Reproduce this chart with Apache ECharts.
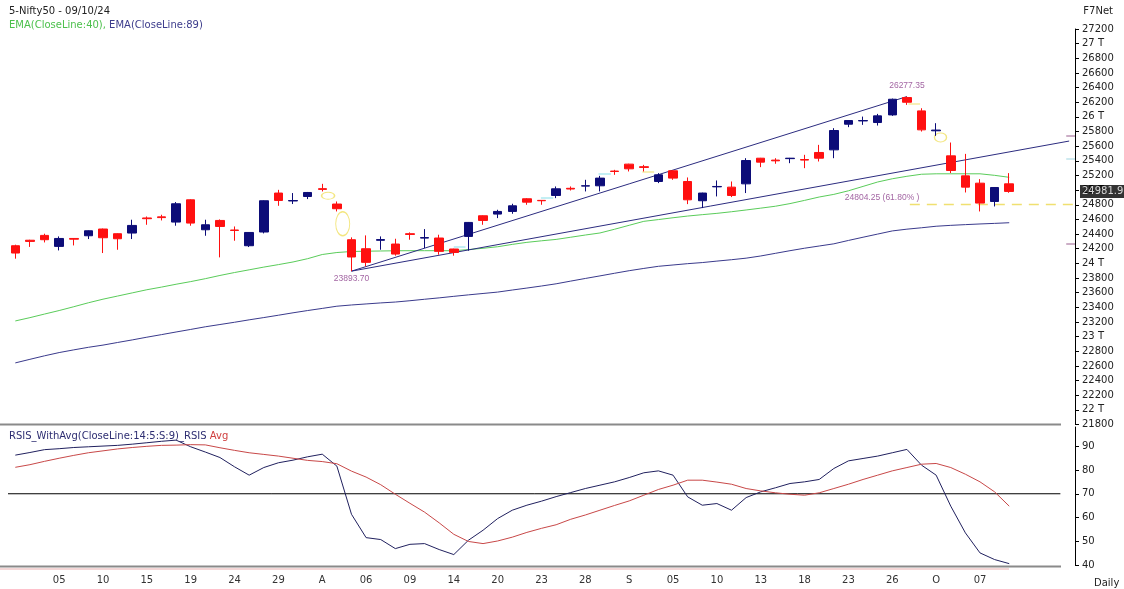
<!DOCTYPE html>
<html><head><meta charset="utf-8">
<script src="https://cdn.jsdelivr.net/npm/echarts@6/dist/echarts.min.js"></script>
<style>html,body{margin:0;padding:0;background:#fff}#c{width:1124px;height:589px}</style>
</head><body><div id="c"></div>
<script>
const dates = ['07-02','07-03','07-04','07-05','07-08','07-09','07-10','07-11','07-12','07-15','07-16','07-18','07-19','07-22','07-23','07-24','07-25','07-26','07-29','07-30','07-31',
'08-01','08-02','08-05','08-06','08-07','08-08','08-09','08-12','08-13','08-14','08-16','08-19','08-20','08-21','08-22','08-23','08-26','08-27','08-28','08-29','08-30',
'09-02','09-03','09-04','09-05','09-06','09-09','09-10','09-11','09-12','09-13','09-16','09-17','09-18','09-19','09-20','09-23','09-24','09-25','09-26','09-27','09-30',
'10-01','10-03','10-04','10-07','10-08','10-09'];
const tickLabels = ['','','','05','','','10','','','15','','','19','','','24','','','29','','',
'A','','','06','','','09','','','14','','','20','','','23','','','28','','',
'S','','','05','','','10','','','13','','','18','','','23','','','26','','',
'O','','','07','',''];
const opens  = [24241,24316,24382,24232,24340,24377,24469,24405,24414,24620,24635,24564,24868,24459,24586,24455,24241,24428,24960,24852,24913,
25020,24810,24323,24200,24315,24264,24405,24345,24346,24196,24368,24650,24673,24709,24882,24860,24927,25025,25055,25059,25260,
25355,25320,25118,25264,25118,24855,25045,25041,25086,25436,25410,25430,25418,25514,25550,25900,25945,25923,26027,26264,26082,
25810,25468,25195,25095,24845,25086];
const closes = [24141,24300,24323,24340,24330,24445,24350,24336,24518,24610,24625,24814,24550,24527,24504,24450,24422,24855,24859,24858,24968,
25010,24746,24087,24014,24325,24127,24395,24352,24164,24150,24559,24586,24709,24786,24836,24855,25018,25015,25060,25164,25255,
25291,25310,25209,25164,24868,24960,25050,24927,25404,25382,25400,25436,25410,25436,25814,25950,25950,26014,26241,26200,25823,
25820,25268,25041,24823,25036,24981.95];
const lows   = [24064,24225,24286,24177,24245,24332,24141,24186,24332,24527,24586,24514,24514,24377,24082,24309,24223,24409,24786,24810,24878,
24982,24709,23893.7,23959,24186,24105,24323,24209,24118,24105,24173,24527,24618,24677,24800,24800,24891,24995,24982,24982,25209,
25255,25255,25096,25141,24809,24755,24914,24905,24960,25314,25360,25368,25300,25391,25436,25860,25891,25882,26014,26164,25800,
25741,25232,24968,24709,24777,24964];
const highs  = [24255,24322,24405,24368,24345,24450,24475,24410,24596,24640,24664,24837,24875,24596,24600,24504,24425,24860,25004,24960,24975,
25086,24845,24355,24382,24368,24336,24423,24468,24391,24200,24565,24655,24732,24814,24890,24864,25050,25050,25141,25195,25277,
25360,25345,25232,25270,25173,24965,25132,25118,25436,25440,25436,25440,25482,25618,25846,25955,26004,26041,26250,26277.35,26118,
25914,25650,25495,25150,25040,25232];
const ema40 = [23214,23259,23308,23356,23408,23462,23511,23554,23597,23640,23676,23715,23751,23791,23835,23875,23912,23949,23983,24019,24064,
24121,24148,24162,24166,24169,24172,24173,24173,24173,24173,24188,24206,24227,24259,24287,24308,24327,24357,24387,24415,24466,
24520,24574,24598,24623,24646,24665,24683,24705,24729,24754,24780,24816,24860,24906,24942,24991,25051,25111,25155,25189,25217,
25223,25223,25223,25223,25202,25175];
const ema89 = [22641,22690,22738,22782,22819,22854,22884,22920,22955,22992,23027,23063,23098,23134,23165,23196,23229,23260,23292,23325,23356,
23385,23415,23432,23446,23460,23472,23490,23510,23529,23550,23570,23589,23608,23636,23663,23691,23721,23758,23794,23829,23865,
23900,23931,23960,23978,23996,24011,24031,24050,24071,24101,24137,24173,24207,24237,24267,24313,24357,24400,24443,24467,24486,
24507,24519,24529,24538,24546,24555];
const rsi = [86.2,87.3,88.5,88.9,89.4,89.7,90.0,90.3,90.8,91.4,92.0,92.5,89.7,87.5,85.2,81.3,77.8,81.0,83.0,84.1,85.5,
86.6,81.6,61.4,51.6,50.8,47.0,48.8,49.1,46.6,44.5,50.5,54.7,59.6,63.1,65.2,66.9,68.8,70.5,72.2,73.6,75.0,
76.8,78.8,79.6,77.8,68.7,65.2,65.9,63.1,68.4,70.8,72.5,74.3,75.0,76.0,80.6,83.8,84.8,85.8,87.2,88.6,82.0,
77.8,64.8,53.6,45.2,42.4,40.7];
const rsiAvg = [81.1,82.2,83.6,84.9,86.1,87.2,88.0,88.8,89.4,89.9,90.3,90.4,90.6,90.5,89.3,88.2,87.2,86.5,85.8,84.9,84.0,
83.5,82.6,79.5,77.0,73.8,69.8,66.0,62.3,57.8,53.0,50.0,49.1,50.2,51.8,53.8,55.5,57.0,59.3,61.1,63.1,65.1,
67.0,69.4,71.8,73.6,75.7,75.7,74.9,74.0,72.2,71.2,70.4,69.8,69.4,70.4,72.2,74.0,76.0,77.8,79.6,81.0,82.4,
82.7,81.0,78.2,75.0,70.8,64.8];
const priceTicks = {min: 21800, max: 27200, step: 200};
const rsiTicks = [40, 50, 60, 70, 80, 90];
const swingLow = {idx: 23, value: 23893.70, text: '23893.70'};
const swingHigh = {idx: 61, value: 26277.35, text: '26277.35'};
const fibLevel = {value: 24804.25, text: '24804.25 (61.80% )'};
const lastClose = '24981.9';

const padCount = 4;
const cats = dates.concat(Array.from({length: padCount}, (_, i) => 'pad' + i));
const N = cats.length;
const candle = dates.map((d, i) => [opens[i], closes[i], lows[i], highs[i]]);

const FONT = 'DejaVu Sans';
const chart = echarts.init(document.getElementById('c'));
const ellipse = (x, y, w, h) => ({value: [x, y], symbolSize: [w, h]});
const seg = (x1, x2, y, color, width) => ({coords: [[x1, y], [x2, y]], lineStyle: {color, width}});

const option = {
  animation: false,
  backgroundColor: '#ffffff',
  textStyle: {fontFamily: FONT},
  title: [
    {text: '5-Nifty50 - 09/10/24', left: 4, top: 1, textStyle: {fontSize: 10, fontWeight: 'normal', color: '#222', fontFamily: FONT}},
    {text: '{g|EMA(CloseLine:40),} {b|EMA(CloseLine:89)}', left: 4, top: 15,
     textStyle: {fontSize: 10, fontWeight: 'normal', fontFamily: FONT, rich: {g: {color: '#4cc04c', fontSize: 10, fontFamily: FONT}, b: {color: '#3c3c8c', fontSize: 10, fontFamily: FONT}}}},
    {text: 'F7Net', right: 6, top: 1, textStyle: {fontSize: 10, fontWeight: 'normal', color: '#222', fontFamily: FONT}},
    {text: '{n|RSIS_WithAvg(CloseLine:14:5:S:9)_RSIS} {r|Avg}', left: 4, top: 426,
     textStyle: {fontSize: 10, fontWeight: 'normal', fontFamily: FONT, rich: {n: {color: '#2e2e72', fontSize: 10, fontFamily: FONT}, r: {color: '#d04040', fontSize: 10, fontFamily: FONT}}}},
    {text: 'Daily', left: 1089, top: 573, textStyle: {fontSize: 10, fontWeight: 'normal', color: '#222', fontFamily: FONT}}
  ],
  grid: [
    {left: 8, right: 49, top: 29, height: 395.5},
    {left: 8, right: 49, top: 427, height: 138.3}
  ],
  xAxis: [
    {type: 'category', gridIndex: 0, data: cats, boundaryGap: true, axisLine: {show: false}, axisTick: {show: false}, axisLabel: {show: false}, splitLine: {show: false}},
    {type: 'category', gridIndex: 1, data: cats, boundaryGap: true, axisLine: {show: false}, axisTick: {show: false}, splitLine: {show: false},
     axisLabel: {interval: (i) => !!tickLabels[i], formatter: (v, i) => tickLabels[i] || '', color: '#333', fontSize: 10, fontFamily: FONT, margin: 10}},
    {type: 'value', gridIndex: 0, min: -0.5, max: N - 0.5, show: false},
    {type: 'value', gridIndex: 1, min: -0.5, max: N - 0.5, show: false}
  ],
  yAxis: [
    {type: 'value', gridIndex: 0, position: 'right', min: priceTicks.min, max: priceTicks.max, interval: priceTicks.step,
     axisLine: {show: true, onZero: false, lineStyle: {color: '#000', width: 1}}, axisTick: {show: true, length: 4, lineStyle: {color: '#000'}},
     splitLine: {show: false},
     axisLabel: {margin: 7, fontSize: 10, fontFamily: FONT, color: '#222', formatter: v => (v % 1000 === 0 ? (v / 1000) + ' T' : String(v))}},
    {type: 'value', gridIndex: 1, position: 'right', min: 40, max: 98, interval: 10,
     axisLine: {show: true, onZero: false, lineStyle: {color: '#000', width: 1}}, axisTick: {show: true, length: 4, customValues: rsiTicks, lineStyle: {color: '#000'}},
     splitLine: {show: false},
     axisLabel: {margin: 7, fontSize: 10, fontFamily: FONT, color: '#222', customValues: rsiTicks}}
  ],
  series: [
    {type: 'line', name: 'EMA89', xAxisIndex: 0, yAxisIndex: 0, data: ema89, symbol: 'none', lineStyle: {color: '#3a3a8c', width: 1}, z: 2},
    {type: 'line', name: 'EMA40', xAxisIndex: 0, yAxisIndex: 0, data: ema40, symbol: 'none', lineStyle: {color: '#5acc5a', width: 1}, z: 2},
    {type: 'line', name: 'trendA', xAxisIndex: 2, yAxisIndex: 0, data: [[swingLow.idx, swingLow.value], [swingHigh.idx, swingHigh.value]], symbol: 'none', lineStyle: {color: '#2c2c80', width: 1}, z: 3},
    {type: 'line', name: 'trendB', xAxisIndex: 2, yAxisIndex: 0, data: [[swingLow.idx, swingLow.value], [72.1, 25670]], symbol: 'none', lineStyle: {color: '#2c2c80', width: 1}, z: 3},
    {type: 'line', name: 'fib', xAxisIndex: 2, yAxisIndex: 0, data: [[61.2, fibLevel.value], [72.4, fibLevel.value]], symbol: 'none', lineStyle: {color: '#f0e070', width: 1.5, type: [10, 7]}, z: 3},
    {type: 'lines', coordinateSystem: 'cartesian2d', xAxisIndex: 2, yAxisIndex: 0, z: 4,
     data: [
       seg(30, 30.8, 24227, '#88e0ea', 2), seg(35.96, 36.8, 24891, '#88e0ea', 2), seg(39.9, 40.75, 25219, '#88e0ea', 2),
       seg(42.9, 43.7, 25250, '#f0e070', 2), seg(61.1, 61.9, 26177, '#f0e070', 2),
       seg(71.9, 72.5, 25745, '#7a2a6a', 1.5), seg(71.9, 72.5, 25427, '#80c8d8', 1.5), seg(71.9, 72.5, 24268, '#7a2a6a', 1.5)
     ]},
    {type: 'scatter', name: 'ellipses', xAxisIndex: 2, yAxisIndex: 0, symbol: 'circle', z: 4,
     itemStyle: {color: 'rgba(0,0,0,0)', borderColor: '#f0e060', borderWidth: 1.2},
     data: [ellipse(21.4, 24923, 13, 7), ellipse(22.4, 24541, 14, 24), ellipse(63.3, 25720, 12, 9)]},
    {type: 'candlestick', name: 'Nifty', xAxisIndex: 0, yAxisIndex: 0, data: candle, barWidth: 9, z: 5,
     itemStyle: {color: '#0c0c78', color0: '#ff1010', borderColor: '#0c0c78', borderColor0: '#ff1010', borderWidth: 1}},
    {type: 'scatter', name: 'labels', xAxisIndex: 2, yAxisIndex: 0, symbolSize: 0, z: 6, clip: false,
     label: {show: true, fontFamily: 'Liberation Sans', fontSize: 8.5, color: '#8b3d8b'},
     data: [
       {value: [swingLow.idx, swingLow.value], label: {position: 'bottom', distance: 3, formatter: swingLow.text}},
       {value: [swingHigh.idx, swingHigh.value], label: {position: 'top', distance: 6, formatter: swingHigh.text}},
       {value: [59.3, fibLevel.value], label: {position: 'top', distance: 2, formatter: fibLevel.text}}
     ]},
    {type: 'scatter', name: 'lastbox', xAxisIndex: 2, yAxisIndex: 0, symbolSize: 0, z: 10, clip: false,
     data: [{value: [N - 0.5, closes[closes.length - 1]]}],
     label: {show: true, position: 'right', distance: 5, formatter: lastClose, color: '#fff', backgroundColor: '#000', padding: [2, 2, 1, 2], fontSize: 10, fontFamily: FONT}},
    {type: 'line', name: 'RSIS', xAxisIndex: 1, yAxisIndex: 1, data: rsi, symbol: 'none', lineStyle: {color: '#20205e', width: 1}, z: 3},
    {type: 'line', name: 'Avg', xAxisIndex: 1, yAxisIndex: 1, data: rsiAvg, symbol: 'none', lineStyle: {color: '#c84848', width: 1}, z: 3},
    {type: 'line', name: 'lvl70', xAxisIndex: 3, yAxisIndex: 1, data: [[-0.5, 70], [71.5, 70]], symbol: 'none', lineStyle: {color: '#000', width: 1}, z: 2}
  ],
  graphic: [
    {type: 'rect', shape: {x: 0, y: 423.5, width: 1061, height: 2}, style: {fill: '#8a8a8a'}, silent: true},
    {type: 'rect', shape: {x: 0, y: 565.5, width: 1061, height: 2}, style: {fill: '#8a8a8a'}, silent: true},
    {type: 'rect', shape: {x: 0, y: 568.5, width: 1009, height: 1}, style: {fill: '#eab0b0'}, silent: true}
  ]
};
chart.setOption(option);
</script></body></html>
